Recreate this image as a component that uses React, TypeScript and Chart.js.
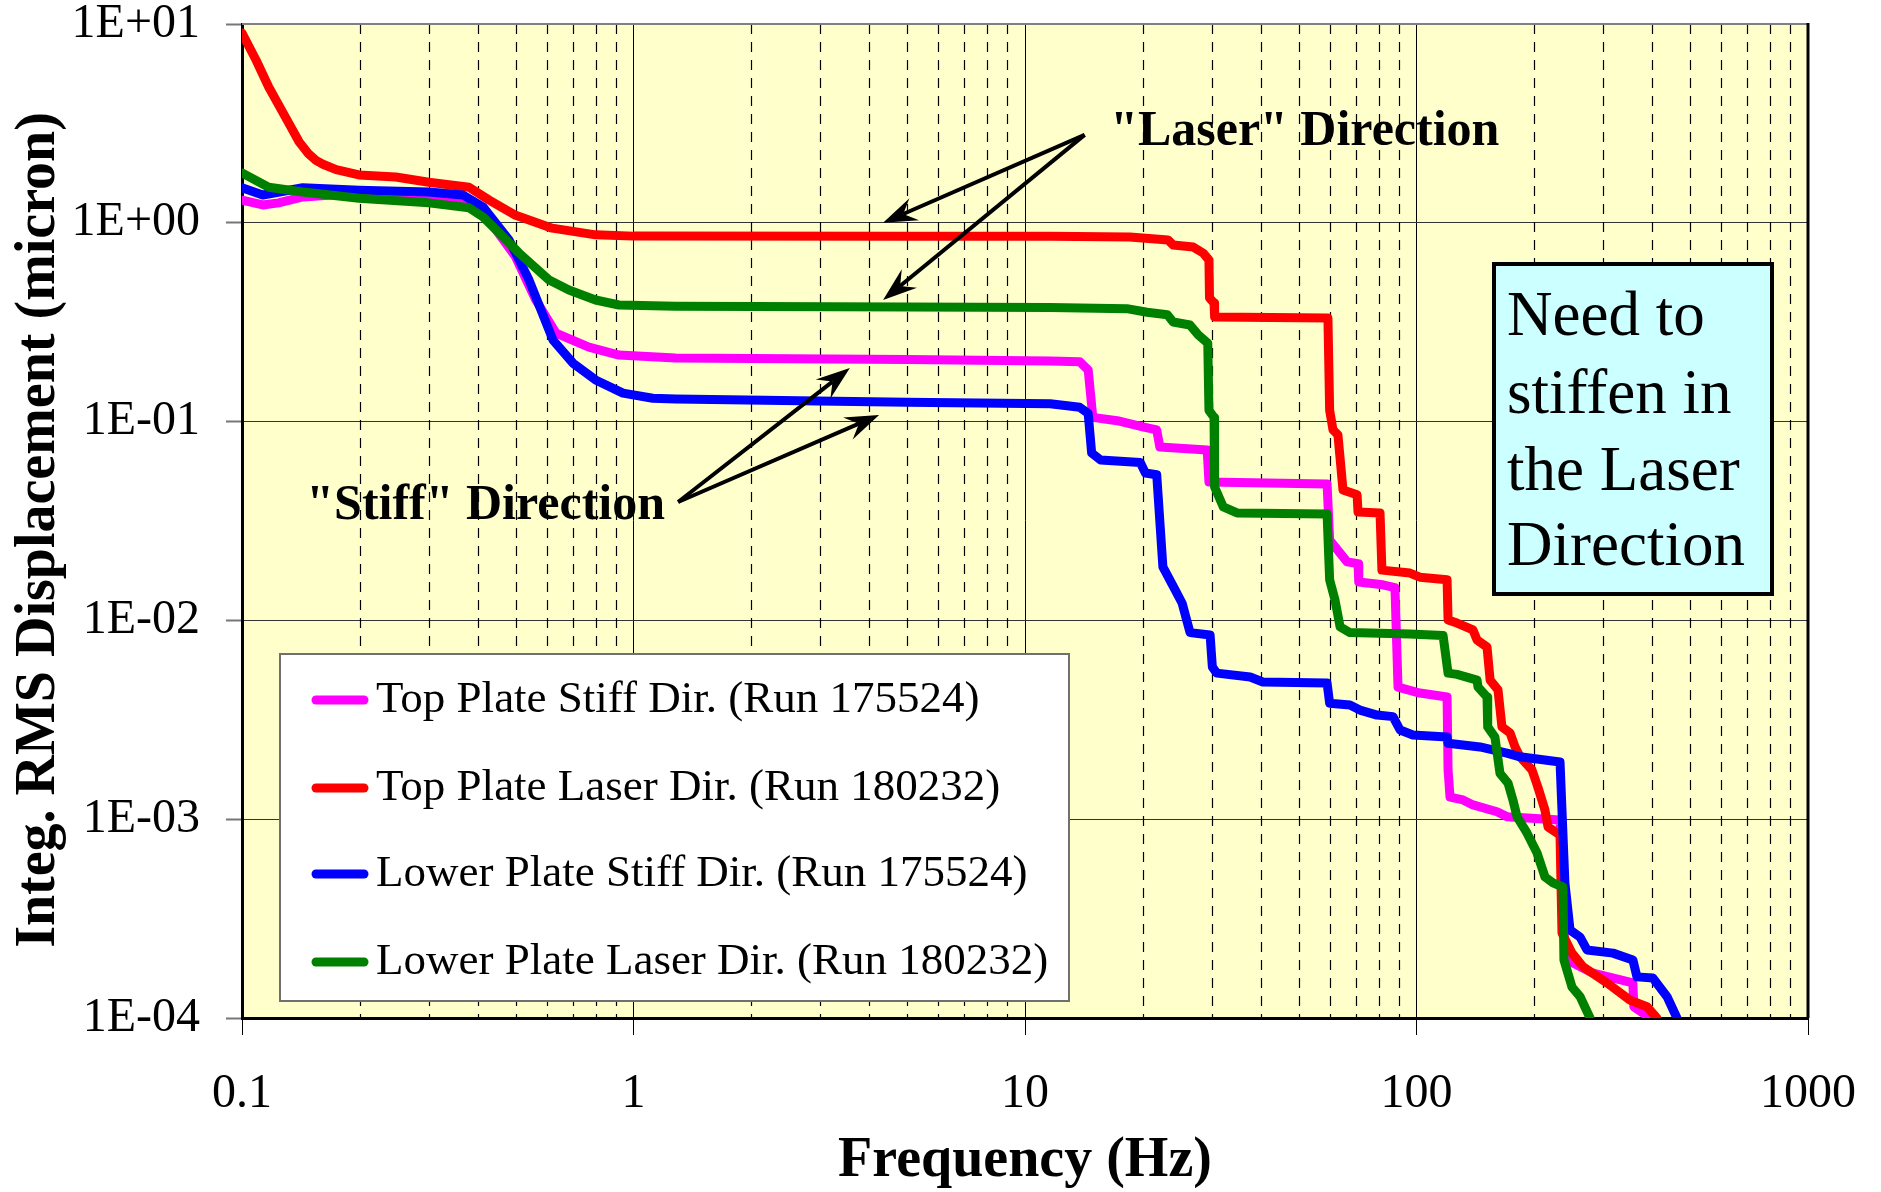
import React, { useEffect, useRef } from 'react';
import { Chart, registerables } from 'chart.js';

Chart.register(...registerables);

const SERIF = "'Liberation Serif', 'Times New Roman', Times, serif";

// ---- axes ----
const X_MIN = 0.1;
const X_MAX = 1000;
const Y_MIN = 0.0001;
const Y_MAX = 10;
const X_TICK_VALUES = [0.1, 1, 10, 100, 1000];
const X_TICK_LABELS = ['0.1', '1', '10', '100', '1000'];
const Y_TICK_VALUES = [10, 1, 0.1, 0.01, 0.001, 0.0001];
const Y_TICK_LABELS = ['1E+01', '1E+00', '1E-01', '1E-02', '1E-03', '1E-04'];
const X_DECADES = [0.1, 1, 10, 100];
const X_MINOR_MULTIPLIERS = [2, 3, 4, 5, 6, 7, 8, 9];

const X_TITLE = 'Frequency (Hz)';
const Y_TITLE = 'Integ. RMS Displacement (micron)';

// ---- series ----
const SERIES_LABELS = [
  'Top Plate Stiff Dir. (Run 175524)',
  'Top Plate Laser Dir. (Run 180232)',
  'Lower Plate Stiff Dir. (Run 175524)',
  'Lower Plate Laser Dir. (Run 180232)',
];
const SERIES_COLORS = ['#FF00FF', '#FF0000', '#0000FF', '#008000'];

const TOP_STIFF_F = [0.1, 0.113, 0.124, 0.143, 0.199, 0.3, 0.38, 0.428, 0.5, 0.563, 0.634, 0.769, 0.918, 1.28, 5, 11.6, 13.8, 14.5, 14.9, 17.2, 20, 21.7, 22.1, 29.2, 29.5, 59.1, 60, 63.8, 66.5, 70.9, 71.2, 82, 88.1, 89.7, 102, 119.7, 120.4, 121.8, 131.5, 139.4, 160.6, 170.2, 232.6, 239.4, 251, 282.5, 357, 359, 395];
const TOP_STIFF_V = [1.3, 1.23, 1.26, 1.35, 1.41, 1.35, 1.26, 1.03, 0.673, 0.409, 0.279, 0.237, 0.216, 0.209, 0.205, 0.202, 0.2, 0.182, 0.105, 0.101, 0.094, 0.0908, 0.0745, 0.072, 0.0497, 0.0486, 0.0254, 0.0218, 0.0197, 0.0193, 0.0156, 0.0151, 0.0146, 0.00462, 0.00431, 0.00412, 0.00177, 0.00129, 0.00125, 0.00118, 0.00109, 0.00103, 0.00099, 0.000212, 0.000189, 0.000168, 0.00015, 0.000114, 0.0001];

const TOP_LASER_F = [0.1, 0.1086, 0.117, 0.129, 0.14, 0.148, 0.1545, 0.161, 0.174, 0.199, 0.247, 0.3, 0.38, 0.428, 0.5, 0.62, 0.8, 1.0, 5, 11.6, 18.5, 23.2, 23.9, 26.9, 28.5, 29.5, 29.6, 30.4, 30.5, 59.4, 60, 61.2, 63.0, 64.9, 70.5, 70.9, 80.7, 81.6, 96.2, 102, 119.7, 120.4, 126.9, 139.4, 142.8, 151.4, 154.2, 161.5, 165.3, 173.3, 178.6, 183.8, 197.2, 204.2, 212.9, 216.8, 232.6, 235.3, 249.6, 266.3, 306.8, 351, 388, 411];
const TOP_LASER_V = [9.0, 6.59, 4.82, 3.41, 2.55, 2.22, 2.06, 1.97, 1.85, 1.74, 1.7, 1.6, 1.51, 1.3, 1.09, 0.94, 0.87, 0.857, 0.855, 0.855, 0.849, 0.819, 0.773, 0.755, 0.705, 0.65, 0.419, 0.395, 0.336, 0.332, 0.114, 0.0908, 0.0857, 0.0453, 0.0428, 0.0351, 0.0347, 0.0179, 0.0173, 0.0165, 0.016, 0.01005, 0.0097, 0.00895, 0.00797, 0.00735, 0.00501, 0.00447, 0.00291, 0.00272, 0.00231, 0.00206, 0.00177, 0.00145, 0.00111, 0.000914, 0.000833, 0.000268, 0.000212, 0.000181, 0.00015, 0.000123, 0.000114, 0.0001];

const LOWER_STIFF_F = [0.1, 0.113, 0.143, 0.199, 0.3, 0.367, 0.413, 0.481, 0.541, 0.623, 0.7, 0.8, 0.94, 1.12, 1.28, 5, 11.6, 13.8, 14.5, 14.8, 15.6, 19.7, 20.3, 21.7, 22.5, 24.2, 25.2, 26.4, 29.7, 30.1, 30.9, 37.6, 40.5, 59.1, 60, 67.6, 71.7, 79.3, 87.1, 90.8, 97.9, 119.7, 120.4, 145.2, 170.2, 183.8, 232.6, 239.4, 246.7, 261.7, 272.6, 317.6, 357, 365.7, 401.5, 436.5, 462.6];
const LOWER_STIFF_V = [1.5, 1.38, 1.5, 1.46, 1.43, 1.38, 1.2, 0.819, 0.515, 0.257, 0.197, 0.162, 0.139, 0.131, 0.13, 0.125, 0.123, 0.118, 0.11, 0.0695, 0.0641, 0.0623, 0.0551, 0.054, 0.0186, 0.0142, 0.0122, 0.00868, 0.00845, 0.00583, 0.00543, 0.00519, 0.0049, 0.00484, 0.00383, 0.00375, 0.00354, 0.00334, 0.00328, 0.00281, 0.00265, 0.00259, 0.00241, 0.00231, 0.00215, 0.00206, 0.00194, 0.000478, 0.000277, 0.000255, 0.00022, 0.000212, 0.000196, 0.000161, 0.000159, 0.000128, 0.0001];

const LOWER_LASER_F = [0.1, 0.117, 0.143, 0.199, 0.3, 0.38, 0.413, 0.465, 0.51, 0.609, 0.684, 0.8, 0.918, 1.28, 5, 11.6, 18.2, 20.5, 23.1, 23.9, 26.4, 27.7, 29.3, 29.5, 30.4, 30.5, 32.1, 34.8, 59.1, 60, 61.9, 63.8, 67.6, 96, 116.9, 120.4, 126.9, 142.8, 143.6, 151.4, 152, 158.6, 163.4, 171.3, 176.3, 180.6, 191.5, 203.2, 212.9, 223.2, 236.6, 238, 249.6, 261.7, 277.5];
const LOWER_LASER_V = [1.78, 1.51, 1.43, 1.33, 1.26, 1.19, 1.07, 0.849, 0.705, 0.515, 0.459, 0.409, 0.386, 0.38, 0.377, 0.375, 0.37, 0.355, 0.345, 0.317, 0.306, 0.273, 0.248, 0.114, 0.105, 0.0469, 0.0372, 0.0347, 0.0343, 0.016, 0.0127, 0.00927, 0.00868, 0.00855, 0.0084, 0.00543, 0.00535, 0.00501, 0.00462, 0.00412, 0.00291, 0.00259, 0.0017, 0.00152, 0.00125, 0.00103, 0.000853, 0.000676, 0.000512, 0.000478, 0.000456, 0.000196, 0.000143, 0.000128, 0.0001];

// ---- annotations (anchored in data space) ----
const LASER_TEXT = '"Laser" Direction';
const LASER_TEXT_AT = [16.5, 2.86];
const LASER_ARROW_FROM = [14.2, 2.77];
const LASER_ARROW_TIPS = [[4.34, 1.0], [4.34, 0.409]];
const STIFF_TEXT = '"Stiff" Direction';
const STIFF_TEXT_AT = [0.146, 0.0376];
const STIFF_ARROW_FROM = [1.3, 0.0394];
const STIFF_ARROW_TIPS = [[3.57, 0.186], [4.24, 0.108]];
const NOTE_LINES = ['Need to', 'stiffen in', 'the Laser', 'Direction'];

const pts = (f: number[], v: number[]) => f.map((x, i) => ({ x, y: v[i] }));

function drawArrow(ctx: CanvasRenderingContext2D, x0: number, y0: number, x1: number, y1: number) {
  const a = Math.atan2(y1 - y0, x1 - x0);
  const c = Math.cos(a), s = Math.sin(a);
  const L = 34, W = 12, N = 22;
  const bx = x1 - L * c, by = y1 - L * s;
  const nx = x1 - N * c, ny = y1 - N * s;
  ctx.save();
  ctx.strokeStyle = '#000';
  ctx.fillStyle = '#000';
  ctx.lineWidth = 4;
  ctx.beginPath();
  ctx.moveTo(x0, y0);
  ctx.lineTo(nx, ny);
  ctx.stroke();
  ctx.beginPath();
  ctx.moveTo(x1, y1);
  ctx.lineTo(bx - W * s, by + W * c);
  ctx.lineTo(nx, ny);
  ctx.lineTo(bx + W * s, by - W * c);
  ctx.closePath();
  ctx.fill();
  ctx.restore();
}

const backgroundPlugin = {
  id: 'plotBackground',
  beforeDraw(chart: any) {
    const { ctx, chartArea: a } = chart;
    ctx.save();
    ctx.fillStyle = '#FFFFCC';
    ctx.fillRect(a.left, a.top, a.right - a.left, a.bottom - a.top);
    ctx.restore();
  },
};

const minorGridPlugin = {
  id: 'minorGrid',
  beforeDatasetsDraw(chart: any) {
    const { ctx, chartArea: a, scales } = chart;
    ctx.save();
    ctx.strokeStyle = '#000';
    ctx.lineWidth = 1.2;
    ctx.setLineDash([10, 8]);
    X_DECADES.forEach((d) => {
      X_MINOR_MULTIPLIERS.forEach((m) => {
        const px = Math.round(scales.x.getPixelForValue(d * m)) + 0.5;
        ctx.beginPath();
        ctx.moveTo(px, a.top);
        ctx.lineTo(px, a.bottom);
        ctx.stroke();
      });
    });
    ctx.restore();
  },
};

const overlayPlugin = {
  id: 'overlay',
  afterDatasetsDraw(chart: any) {
    const { ctx, chartArea: a, scales } = chart;
    const X = (v: number) => scales.x.getPixelForValue(v);
    const Y = (v: number) => scales.y.getPixelForValue(v);

    // frame (top & right)
    ctx.save();
    ctx.strokeStyle = '#808080';
    ctx.lineWidth = 2;
    ctx.beginPath();
    ctx.moveTo(a.left, a.top);
    ctx.lineTo(a.right, a.top);
    ctx.stroke();
    ctx.strokeStyle = '#000';
    ctx.lineWidth = 3;
    ctx.beginPath();
    ctx.moveTo(a.right, a.top - 1);
    ctx.lineTo(a.right, a.bottom);
    ctx.stroke();
    ctx.restore();

    // legend
    const lg = { left: a.left + 38, top: a.top + 630, width: 789, height: 347 };
    const rows = [46, 134, 220, 308];
    ctx.save();
    ctx.fillStyle = '#FFFFFF';
    ctx.fillRect(lg.left, lg.top, lg.width, lg.height);
    ctx.strokeStyle = '#707070';
    ctx.lineWidth = 2;
    ctx.strokeRect(lg.left, lg.top, lg.width, lg.height);
    chart.data.datasets.forEach((ds: any, i: number) => {
      const yy = lg.top + rows[i];
      ctx.strokeStyle = ds.borderColor;
      ctx.lineWidth = 9;
      ctx.lineCap = 'round';
      ctx.beginPath();
      ctx.moveTo(lg.left + 36, yy);
      ctx.lineTo(lg.left + 84, yy);
      ctx.stroke();
      ctx.fillStyle = '#000';
      ctx.font = `45px ${SERIF}`;
      ctx.textAlign = 'left';
      ctx.textBaseline = 'middle';
      ctx.fillText(ds.label, lg.left + 96, yy);
    });
    ctx.restore();

    // note box
    const nb = { left: a.left + 1252, top: a.top + 240, width: 278, height: 330 };
    const lineY = [54, 132, 209, 284];
    ctx.save();
    ctx.fillStyle = '#CCFFFF';
    ctx.fillRect(nb.left, nb.top, nb.width, nb.height);
    ctx.strokeStyle = '#000';
    ctx.lineWidth = 4;
    ctx.strokeRect(nb.left, nb.top, nb.width, nb.height);
    ctx.fillStyle = '#000';
    ctx.font = `63px ${SERIF}`;
    ctx.textAlign = 'left';
    ctx.textBaseline = 'middle';
    NOTE_LINES.forEach((t, i) => ctx.fillText(t, nb.left + 13, nb.top + lineY[i]));
    ctx.restore();

    // arrows + labels
    LASER_ARROW_TIPS.forEach((tp) =>
      drawArrow(ctx, X(LASER_ARROW_FROM[0]), Y(LASER_ARROW_FROM[1]), X(tp[0]), Y(tp[1]))
    );
    STIFF_ARROW_TIPS.forEach((tp) =>
      drawArrow(ctx, X(STIFF_ARROW_FROM[0]), Y(STIFF_ARROW_FROM[1]), X(tp[0]), Y(tp[1]))
    );
    ctx.save();
    ctx.fillStyle = '#000';
    ctx.font = `bold 50px ${SERIF}`;
    ctx.textAlign = 'left';
    ctx.textBaseline = 'middle';
    ctx.fillText(LASER_TEXT, X(LASER_TEXT_AT[0]), Y(LASER_TEXT_AT[1]));
    ctx.fillText(STIFF_TEXT, X(STIFF_TEXT_AT[0]), Y(STIFF_TEXT_AT[1]));
    ctx.restore();
  },
  afterDraw(chart: any) {
    const { ctx, chartArea: a } = chart;
    ctx.save();
    ctx.fillStyle = '#000';
    ctx.font = `bold 56px ${SERIF}`;
    ctx.textAlign = 'center';
    ctx.textBaseline = 'middle';
    ctx.fillText(X_TITLE, (a.left + a.right) / 2, a.bottom + 144);
    ctx.translate(40, (a.top + a.bottom) / 2 + 9);
    ctx.rotate(-Math.PI / 2);
    ctx.fillText(Y_TITLE, 0, 0);
    ctx.restore();
  },
};

export default function App() {
  const ref = useRef<HTMLCanvasElement | null>(null);

  useEffect(() => {
    if (!ref.current) return;
    const series = [
      { f: TOP_STIFF_F, v: TOP_STIFF_V, order: 3 },
      { f: TOP_LASER_F, v: TOP_LASER_V, order: 2 },
      { f: LOWER_STIFF_F, v: LOWER_STIFF_V, order: 1 },
      { f: LOWER_LASER_F, v: LOWER_LASER_V, order: 0 },
    ];
    const chart = new Chart(ref.current, {
      type: 'line',
      data: {
        datasets: series.map((s, i) => ({
          label: SERIES_LABELS[i],
          data: pts(s.f, s.v),
          borderColor: SERIES_COLORS[i],
          backgroundColor: SERIES_COLORS[i],
          borderWidth: 9,
          pointRadius: 0,
          tension: 0,
          fill: false,
          borderJoinStyle: 'round',
          borderCapStyle: 'round',
          order: s.order,
          clip: 0,
        })),
      },
      options: {
        responsive: false,
        animation: false,
        devicePixelRatio: 1,
        layout: { padding: { top: 24, right: 73, left: 0, bottom: 0 } },
        plugins: { legend: { display: false }, tooltip: { enabled: false }, title: { display: false } },
        scales: {
          x: {
            type: 'logarithmic',
            min: X_MIN,
            max: X_MAX,
            afterBuildTicks: (s: any) => {
              s.ticks = X_TICK_VALUES.map((v) => ({ value: v }));
            },
            afterFit: (s: any) => {
              s.height = 174;
              s.paddingLeft = 0;
              s.paddingRight = 0;
            },
            ticks: {
              autoSkip: false,
              maxRotation: 0,
              color: '#000',
              padding: 31,
              font: { family: SERIF, size: 48 },
              callback: (_v: any, i: number) => X_TICK_LABELS[i],
            },
            grid: { color: '#000', lineWidth: 1, tickLength: 17, tickColor: '#000', tickWidth: 1 },
            border: { color: '#000', width: 3 },
            title: { display: false, text: X_TITLE },
          },
          y: {
            type: 'logarithmic',
            min: Y_MIN,
            max: Y_MAX,
            afterBuildTicks: (s: any) => {
              s.ticks = Y_TICK_VALUES.map((v) => ({ value: v }));
            },
            afterFit: (s: any) => {
              s.width = 242;
              s.paddingTop = 0;
              s.paddingBottom = 0;
            },
            ticks: {
              autoSkip: false,
              color: '#000',
              padding: 26,
              font: { family: SERIF, size: 48 },
              callback: (v: any) => {
                const i = Y_TICK_VALUES.findIndex((t) => Math.abs(Math.log10(t) - Math.log10(v)) < 1e-6);
                return i >= 0 ? Y_TICK_LABELS[i] : '';
              },
            },
            grid: { color: '#333', lineWidth: 1, tickLength: 16, tickColor: '#777', tickWidth: 2 },
            border: { color: '#000', width: 3 },
            title: { display: false, text: Y_TITLE },
          },
        },
      },
      plugins: [backgroundPlugin, minorGridPlugin, overlayPlugin],
    } as any);
    return () => chart.destroy();
  }, []);

  return (
    <div style={{ position: 'absolute', left: 0, top: 0, width: 1881, height: 1192, background: '#fff' }}>
      <canvas ref={ref} width={1881} height={1192} style={{ display: 'block', width: 1881, height: 1192 }} />
    </div>
  );
}
